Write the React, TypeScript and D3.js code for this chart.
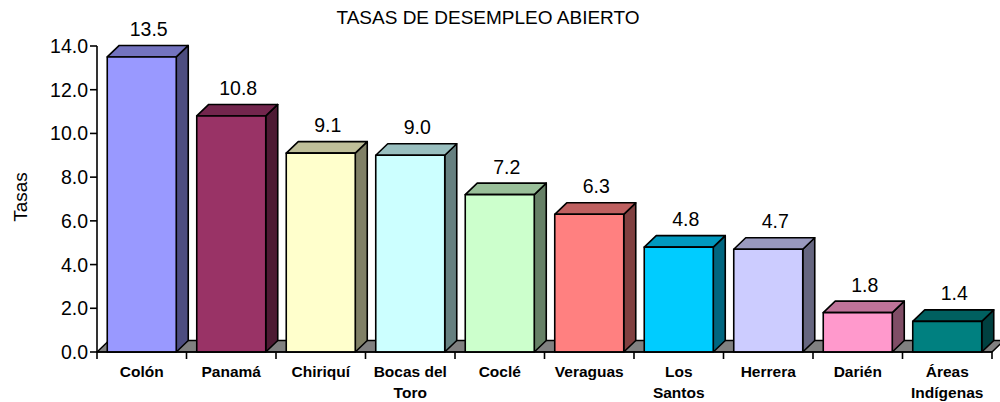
import React from 'react';
import * as d3 from 'd3';

const categories = ['Colón', 'Panamá', 'Chiriquí', 'Bocas del\nToro', 'Coclé', 'Veraguas', 'Los\nSantos', 'Herrera', 'Darién', 'Áreas\nIndígenas'];
const values = [13.5, 10.8, 9.1, 9.0, 7.2, 6.3, 4.8, 4.7, 1.8, 1.4];
const barColors = ['#9999FF', '#993366', '#FFFFCC', '#CCFFFF', '#CCFFCC', '#FF8080', '#00CCFF', '#CCCCFF', '#FF99CC', '#008080'];
const yTicks = [0, 2, 4, 6, 8, 10, 12, 14];

const width = 1000;
const height = 402;
const left = 97;
const right = 992;
const bottom = 352;
const top = 46;
const depthX = 12;
const depthY = 11.5;
const font = 'Arial, "Liberation Sans", sans-serif';

const shade = (c: string, k: number) => {
  const rgb = d3.rgb(c);
  return d3.rgb(rgb.r * k, rgb.g * k, rgb.b * k).formatHex();
};

const App = () => {
  const x = d3.scaleBand<string>()
    .domain(categories)
    .range([left, right])
    .paddingInner(0.229)
    .paddingOuter(0.1145);
  const y = d3.scaleLinear().domain([0, 14]).range([bottom, top]);
  const step = x.step();
  const bw = x.bandwidth();

  const floor = [
    [left, bottom], [right, bottom], [right + depthX, bottom - depthY], [left + depthX, bottom - depthY],
  ].map(p => p.join(',')).join(' ');

  return (
    <svg width={width} height={height} style={{ position: 'absolute', left: 0, top: 0, background: '#fff' }}
      fontFamily={font}>
      <text x={488} y={24} textAnchor="middle" fontSize={19}>TASAS DE DESEMPLEO ABIERTO</text>
      <text transform="translate(27,197) rotate(-90)" textAnchor="middle" fontSize={19}>Tasas</text>

      <polygon points={floor} fill="#808080" stroke="#000" strokeWidth={1.5} strokeLinejoin="round" />

      {categories.map((c, i) => {
        const x0 = x(c)!;
        const x1 = x0 + bw;
        const yt = y(values[i]);
        const col = barColors[i];
        const front = `${x0},${bottom} ${x1},${bottom} ${x1},${yt} ${x0},${yt}`;
        const topFace = `${x0},${yt} ${x1},${yt} ${x1 + depthX},${yt - depthY} ${x0 + depthX},${yt - depthY}`;
        const side = `${x1},${bottom} ${x1 + depthX},${bottom - depthY} ${x1 + depthX},${yt - depthY} ${x1},${yt}`;
        return (
          <g key={c} stroke="#000" strokeWidth={1.6} strokeLinejoin="round">
            <polygon points={side} fill={shade(col, 0.5)} />
            <polygon points={topFace} fill={shade(col, 0.75)} />
            <polygon points={front} fill={col} />
            <text x={x0 + bw / 2 + 7} y={yt - depthY - 9.5} textAnchor="middle" fontSize={19.5} stroke="none" fill="#000">
              {values[i].toFixed(1)}
            </text>
          </g>
        );
      })}

      <line x1={left} x2={left} y1={top} y2={bottom} stroke="#000" strokeWidth={1.6} />
      <line x1={left} x2={right} y1={bottom} y2={bottom} stroke="#000" strokeWidth={1.6} />
      {yTicks.map(t => (
        <g key={t}>
          <line x1={left - 7} x2={left} y1={y(t)} y2={y(t)} stroke="#000" strokeWidth={1.6} />
          <text x={88} y={y(t)} dy="0.36em" textAnchor="end" fontSize={19.5}>{t.toFixed(1)}</text>
        </g>
      ))}
      {d3.range(categories.length + 1).map(i => {
        const tx = left + i * step;
        return <line key={i} x1={tx} x2={tx} y1={bottom} y2={bottom + 7} stroke="#000" strokeWidth={1.6} />;
      })}
      {categories.map(c => {
        const cx = x(c)! + bw / 2;
        return (
          <text key={c} x={cx} y={377} textAnchor="middle" fontSize={15.5} fontWeight="bold">
            {c.split('\n').map((line, j) => (
              <tspan key={j} x={cx} dy={j === 0 ? 0 : 21}>{line}</tspan>
            ))}
          </text>
        );
      })}
    </svg>
  );
};

export default App;
